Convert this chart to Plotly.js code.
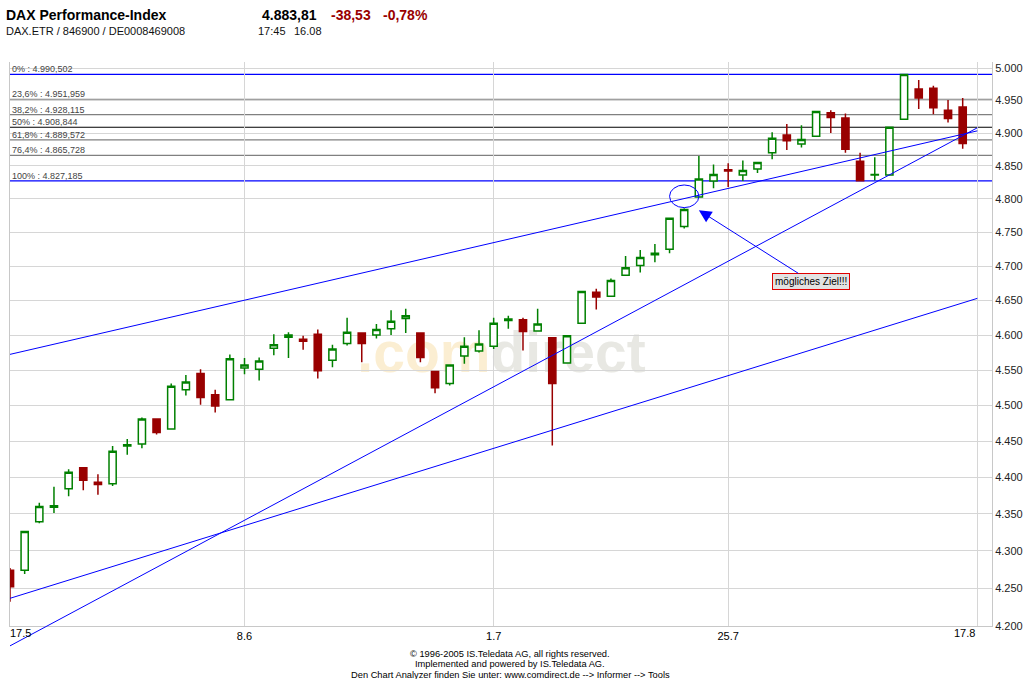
<!DOCTYPE html>
<html><head><meta charset="utf-8">
<script src="https://cdn.plot.ly/plotly-3.0.1.min.js"></script>
<style>html,body{margin:0;padding:0;background:#fff}#chart{width:1024px;height:679px}</style>
</head><body><div id="chart"></div>
<script>
// ---- data (DAX daily candles, 17.05.2005 - 16.08.2005) ----
const dates = ['17.5','18.5','19.5','20.5','23.5','24.5','25.5','26.5','27.5','30.5','31.5',
 '1.6','2.6','3.6','6.6','7.6','8.6','9.6','10.6','13.6','14.6','15.6','16.6','17.6','20.6','21.6','22.6','23.6','24.6','27.6','28.6','29.6','30.6',
 '1.7','4.7','5.7','6.7','7.7','8.7','11.7','12.7','13.7','14.7','15.7','18.7','19.7','20.7','21.7','22.7','25.7','26.7','27.7','28.7','29.7',
 '1.8','2.8','3.8','4.8','5.8','8.8','9.8','10.8','11.8','12.8','15.8','16.8'];
const open  = [4274,4274,4339,4359,4384,4413,4393,4391,4443,4446,4481,4467,4522,4545,4515,4508,4553,4551,4581,4597,4594,4601,4564,4588,4603,4600,4609,4624,4603,4548,4531,4570,4577,4584,4621,4622,4606,4596,4560,4617,4662,4656,4687,4701,4717,4725,4759,4803,4827,4844,4836,4845,4870,4897,4883,4895,4931,4923,4857,4836,4836,4921,4968,4969,4935,4940];
const high  = [4277,4327,4365,4387,4411,4414,4404,4443,4453,4483,4482,4531,4543,4551,4522,4572,4567,4568,4601,4604,4599,4608,4586,4625,4604,4616,4636,4638,4604,4549,4558,4597,4607,4625,4628,4625,4638,4597,4600,4664,4667,4682,4715,4724,4733,4772,4786,4865,4852,4854,4858,4856,4901,4914,4912,4934,4935,4930,4870,4863,4910,4990.502,4982,4973,4951,4954];
const low   = [4232,4269,4337,4351,4374,4382,4376,4388,4431,4440,4459,4466,4514,4501,4490,4507,4544,4535,4571,4567,4579,4538,4554,4585,4561,4595,4600,4603,4561,4517,4528,4559,4575,4580,4609,4578,4605,4444,4559,4616,4637,4655,4686,4691,4706,4719,4756,4802,4816,4818,4827,4839,4860,4874,4878,4894,4900,4870,4827.185,4828,4835,4920,4937,4929,4916,4876];
const close = [4252,4326,4360,4361,4407,4396,4390,4436,4445,4481,4462,4527,4533,4511,4499,4566,4557,4563,4586,4600,4591,4549,4580,4604,4588,4608,4620,4628,4568,4525,4557,4584,4587,4617,4623,4605,4616,4531,4599,4663,4655,4679,4698,4713,4719,4771,4784,4830,4837,4842,4843,4855,4892,4888,4890,4933,4924,4875,4827.2,4837,4909,4990.5,4954,4939,4922.34,4883.81];
const axisEndLabel = '17.8';
const xTickLabels = ['17.5','8.6','1.7','25.7','17.8'];
const yTickValues = [4200,4250,4300,4350,4400,4450,4500,4550,4600,4650,4700,4750,4800,4850,4900,4950,5000];
const yTickLabels = ['4.200','4.250','4.300','4.350','4.400','4.450','4.500','4.550','4.600','4.650','4.700','4.750','4.800','4.850','4.900','4.950','5.000'];
// Fibonacci retracement
const fibPercents = ['0%','23,6%','38,2%','50%','61,8%','76,4%','100%'];
const fibValues = [4990.502,4951.959,4928.115,4908.844,4889.572,4865.728,4827.185];
// trend lines: value at first date (17.5) and at 17.8
const trendStartValues = [4572.3, 4174.0, 4236.5];
const trendEndValues   = [4903.3, 4908.0, 4653.1];
// marked zone (19.7 - 21.7) and arrow target (21.7)
const targetLow = 4787, targetHigh = 4821;
const arrowTargetValue = 4783;
// header
const quote = {name:'DAX Performance-Index', last:'4.883,81', change:'-38,53', pct:'-0,78%', ids:'DAX.ETR / 846900 / DE0008469008', time:'17:45', date:'16.08'};
const footerLines = ['© 1996-2005 IS.Teledata AG, all rights reserved.','Implemented and powered by IS.Teledata AG.','Den Chart Analyzer finden Sie unter: www.comdirect.de --> Informer --> Tools'];

// ---- helpers ----
const allCats = dates.concat([axisEndLabel]);
const pos = lbl => allCats.indexOf(lbl);   // category position on the x axis
const yRange = [Math.log10(4200), Math.log10(5010)];
const yFrac = v => (Math.log10(v) - yRange[0]) / (yRange[1] - yRange[0]); // value -> fraction of the log axis
const W = 1024, H = 679, M = {l:10, r:32, t:62, b:53};
const PW = W - M.l - M.r, PH = H - M.t - M.b;
const fx = p => (p - M.l) / PW;
const fy = p => (H - M.b - p) / PH;
const FONT = 'Liberation Sans, Arial, sans-serif';
function deNum(v){
  const s = v.toFixed(3).split('.');
  return s[0].replace(/\B(?=(\d{3})+(?!\d))/g,'.') + ',' + s[1];
}
const fibColors = ['#0000ff','#808080','#808080','#000000','#808080','#808080','#0000ff'];

const trace = {
  type:'candlestick', x:dates, open:open, high:high, low:low, close:close,
  increasing:{line:{color:'#008000', width:1.5}, fillcolor:'#ffffff'},
  decreasing:{line:{color:'#990000', width:1.5}, fillcolor:'#990000'},
  hoverinfo:'skip', showlegend:false
};

const shapes = [];
// watermark
shapes.push({type:'rect', xref:'paper', yref:'paper', x0:fx(358), x1:fx(645), y0:fy(380), y1:fy(313),
  line:{color:'rgba(0,0,0,0)', width:0}, fillcolor:'rgba(255,255,255,0)', layer:'below',
  label:{text:'<b><span style="color:#fbeed2">.com</span><span style="color:#e8e8e3">direct</span></b>',
         font:{size:57, family:FONT}, textposition:'middle center'}});
fibValues.forEach((v,i)=>{
  shapes.push({type:'line', xref:'paper', x0:0, x1:1, yref:'y', y0:v, y1:v,
    line:{color:fibColors[i], width:1.2}, layer:'between'});
});
// trend lines (clipped only horizontally, like the original which runs past the bottom axis)
trendStartValues.forEach((v,i)=>{
  shapes.push({type:'line', xref:'x', yref:'paper', x0:pos(dates[0]), x1:pos(axisEndLabel),
    y0:yFrac(v), y1:yFrac(trendEndValues[i]), line:{color:'#0000ff', width:1}, layer:'above'});
});
shapes.push({type:'circle', xref:'x', yref:'y', x0:pos('19.7'), x1:pos('21.7'), y0:targetLow, y1:targetHigh,
  line:{color:'#0000ff', width:1}, layer:'above'});

const ann = [];
function txt(text, x, y, opts){
  ann.push(Object.assign({xref:'paper', yref:'paper', x:fx(x), y:fy(y), text:text, showarrow:false,
    xanchor:'left', yanchor:'middle', borderpad:0, font:{family:FONT, size:11, color:'#000'}}, opts||{}));
}
txt('<b>'+quote.name+'</b>', 5, 15, {font:{family:FONT, size:14, color:'#000'}});
txt('<b>'+quote.last+'</b>', 261, 15, {font:{family:FONT, size:14, color:'#000'}});
txt('<b>'+quote.change+'</b>', 330, 15, {font:{family:FONT, size:14, color:'#990000'}});
txt('<b>'+quote.pct+'</b>', 382, 15, {font:{family:FONT, size:14, color:'#990000'}});
txt(quote.ids, 5, 31, {font:{family:FONT, size:11, color:'#111'}});
txt(quote.time, 257, 31, {font:{family:FONT, size:11, color:'#111'}});
txt(quote.date, 293, 31, {font:{family:FONT, size:11, color:'#111'}});
footerLines.forEach((t,i)=> txt(t, 510, 654 + i*10.3, {xanchor:'center', font:{family:FONT, size:9.3, color:'#000'}}));
// fib labels
fibValues.forEach((v,i)=>{
  ann.push({xref:'paper', x:0, xanchor:'left', xshift:0, yref:'y', y:Math.log10(v), yanchor:'bottom', yshift:-2,
    text: fibPercents[i] + ' : ' + deNum(v), showarrow:false, font:{family:FONT, size:9, color:'#444'}});
});
// edge tick labels (kept inside the plot width, like the original)
ann.push({xref:'x', x:pos(xTickLabels[0]), yref:'paper', y:fy(633), xanchor:'left', yanchor:'middle', xshift:-2,
  text:xTickLabels[0], showarrow:false, font:{family:FONT, size:11, color:'#000'}});
ann.push({xref:'x', x:pos(axisEndLabel), yref:'paper', y:fy(633), xanchor:'right', yanchor:'middle', xshift:0,
  text:xTickLabels[xTickLabels.length-1], showarrow:false, font:{family:FONT, size:11, color:'#000'}});
// arrow note
ann.push({xref:'x', yref:'y', x:pos('21.7'), y:Math.log10(arrowTargetValue), ax:112, ay:71,
  text:'mögliches Ziel!!!', showarrow:true, arrowhead:2, arrowsize:2.5, arrowwidth:1, arrowcolor:'#0000ff',
  bgcolor:'#e2e2e2', bordercolor:'#e00000', borderwidth:1, borderpad:2,
  font:{family:FONT, size:10, color:'#000'}});

const layout = {
  width:W, height:H, margin:{l:M.l, r:M.r, t:M.t, b:M.b, pad:0},
  paper_bgcolor:'#ffffff', plot_bgcolor:'#ffffff', showlegend:false,
  font:{family:FONT, size:11, color:'#000'},
  xaxis:{type:'category', categoryorder:'array', categoryarray:allCats,
    range:[0, 67], rangeslider:{visible:false}, tickmode:'array', tickvals:xTickLabels.map(pos),
    ticktext:xTickLabels.map((t,i)=> (i===0 || i===xTickLabels.length-1) ? '' : t),
    showgrid:true, gridcolor:'#d6d6d6', gridwidth:1, showline:true, linecolor:'#c8c8c8', linewidth:1,
    ticks:'', zeroline:false, tickfont:{family:FONT, size:11, color:'#000'}},
  yaxis:{type:'log', side:'right', range:yRange,
    tickmode:'array', tickvals:yTickValues, ticktext:yTickLabels,
    showgrid:true, gridcolor:'#d6d6d6', gridwidth:1, showline:true, linecolor:'#c8c8c8', linewidth:1, mirror:true,
    ticks:'', zeroline:false, tickfont:{family:FONT, size:11, color:'#222'}},
  shapes:shapes, annotations:ann
};
Plotly.newPlot('chart', [trace], layout, {staticPlot:true, displayModeBar:false});
</script></body></html>
